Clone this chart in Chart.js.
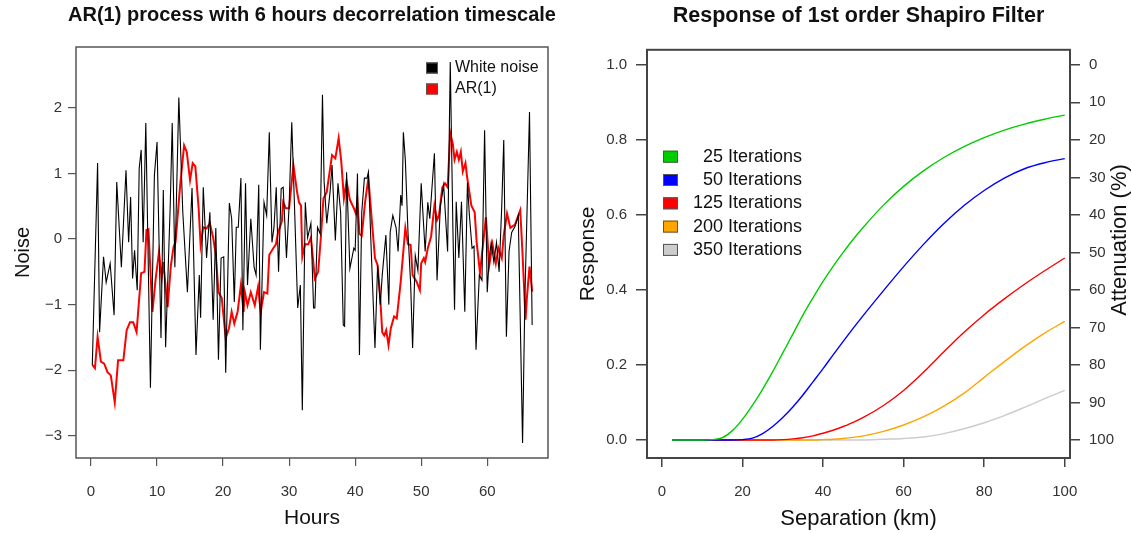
<!DOCTYPE html>
<html>
<head>
<meta charset="utf-8">
<script src="https://cdn.jsdelivr.net/npm/chart.js"></script>
<style>
  body { margin: 0; background: #fff; }
  .panel { position: absolute; top: 0; }
</style>
</head>
<body>
<div class="panel" style="left:0"><canvas id="arChart" width="624" height="533"></canvas></div>
<div class="panel" style="left:565px"><canvas id="shapiroChart" width="566" height="533"></canvas></div>
<script>
// left panel: white noise and AR(1)
const noiseHours = [0.2, 1.0, 1.3, 1.9, 2.3, 2.9, 3.5, 3.9, 4.6, 5.3, 5.7, 6.0, 6.3, 6.6, 7.0, 7.3, 7.6, 7.9, 8.3, 9.0,
  9.6, 10.0, 10.6, 10.95, 11.3, 12.0, 12.3, 12.7, 13.3, 13.9, 14.6, 15.3, 15.9, 16.4, 16.6, 17.0, 17.5, 18.0, 18.5, 18.9,
  19.3, 19.7, 20.1, 20.4, 20.95, 21.3, 21.7, 22.0, 22.3, 22.7, 23.0, 23.4, 23.7, 24.2, 24.7, 25.0, 25.4, 25.65, 26.2, 26.6,
  27.0, 27.4, 27.7, 28.05, 28.4, 28.8, 29.1, 29.6, 30.0, 30.4, 30.8, 31.3, 31.7, 32.0, 32.45, 32.8, 33.3, 33.7, 33.9, 34.3,
  34.7, 35.05, 35.3, 35.7, 36.2, 36.5, 37.0, 37.4, 37.8, 38.2, 38.4, 38.7, 39.2, 39.8, 40.0, 40.35, 40.65, 41.0, 41.4, 41.8,
  42.0, 42.5, 43.0, 43.4, 43.8, 44.1, 44.65, 45.1, 45.3, 45.7, 46.2, 46.5, 46.9, 47.1, 47.3, 47.6, 48.0, 48.4, 48.7, 49.1,
  49.5, 50.0, 50.6, 51.0, 51.3, 52.0, 52.4, 52.9, 53.4, 54.0, 54.4, 54.8, 55.05, 55.3, 55.7, 56.1, 56.6, 57.0, 57.3, 57.7,
  58.0, 58.3, 58.8, 59.2, 59.6, 60.0, 60.3, 60.6, 61.0, 61.4, 61.8, 62.2, 62.5, 62.9, 63.3, 63.7, 64.2, 64.7, 65.35, 65.7,
  66.4, 66.8];
const noiseValues = [-1.92, 1.16, -1.42, -0.27, -0.66, -0.37, -1.16, 0.87, -0.43, 1.05, -0.05, 0.64, -0.6, -0.17, -0.78, 1.08, 1.36, -0.05, 1.77, -2.27,
  0.97, 1.48, -1.51, 0.75, -1.65, 0.52, 1.77, -0.43, 2.16, 0.41, -0.81, 0.78, -1.77, -0.55, -1.2, 0.79, -0.29, 0.41, -1.23, 0.17,
  -1.84, -0.29, -0.27, -2.04, 0.55, 0.31, -0.96, 0.18, 0.18, 0.93, -1.39, 0.85, -0.7, 0.31, -0.43, -0.55, 0.83, -1.69, 0.56, 0.36,
  1.63, -0.05, 0.17, 0.79, -0.5, 0.77, 0.79, -0.29, 0.51, 1.78, 0.55, -1.05, -0.7, -2.61, 0.56, 0.02, 0.24, -1.05, -1.05, 0.18,
  0.08, 2.2, 0.88, 0.24, 0.72, 1.13, -0.02, 0.85, 0.41, -1.31, -1.33, 1.02, -0.45, -0.14, -0.17, 1.0, -1.77, 0.41, 0.93, 0.93,
  1.02, -0.35, -1.66, -0.4, -1.0, -0.55, 0.06, -1.0, 0.1, 0.36, 0.17, -0.19, 0.67, 0.51, 1.63, 1.2, 0.1, -0.68, -1.66, -0.25,
  -0.48, 0.85, -0.19, 0.56, 0.31, 1.31, -0.63, 0.51, 0.82, -0.19, 2.7, 0.16, -1.08, 0.57, -0.29, 0.57, -1.11, 0.86, 0.36, -0.14,
  -0.11, -1.69, -0.55, -0.63, 1.66, -0.81, -0.29, -0.05, -0.35, -0.05, -0.5, 0.51, 1.51, -1.49, -0.19, 0.1, 0.19, 0.36, -3.11, -0.9,
  1.94, -1.31];

const arHours = [0.2, 0.6, 1.0, 1.5, 2.0, 2.5, 3.0, 3.6, 4.1, 4.9, 5.4, 5.9, 6.4, 6.9, 7.6, 8.1, 8.4, 8.7, 9.3, 9.8,
  10.3, 10.7, 10.95, 11.6, 12.1, 12.5, 12.8, 13.5, 14.1, 14.5, 15.0, 15.4, 15.8, 16.3, 16.6, 17.0, 17.5, 18.0, 18.5, 18.9,
  19.3, 19.8, 20.4, 20.9, 21.3, 21.7, 22.2, 22.7, 23.1, 23.3, 23.7, 24.2, 24.8, 25.3, 25.7, 26.2, 26.7, 27.0, 27.6, 28.0,
  28.3, 28.9, 29.1, 29.5, 30.0, 30.65, 31.2, 31.5, 31.8, 32.0, 32.4, 32.9, 33.3, 33.9, 34.4, 34.8, 35.2, 35.7, 36.0, 36.5,
  37.0, 37.5, 37.9, 38.3, 38.7, 39.2, 39.8, 40.1, 40.35, 40.65, 41.0, 41.5, 42.0, 42.5, 43.0, 43.4, 43.8, 44.1, 44.4, 44.7,
  45.05, 45.4, 45.9, 46.3, 46.9, 47.6, 48.0, 48.4, 48.7, 49.3, 49.8, 50.0, 50.4, 50.6, 51.0, 51.5, 52.0, 52.4, 52.7, 53.2,
  53.6, 54.0, 54.4, 54.8, 55.05, 55.4, 55.7, 56.0, 56.3, 56.7, 56.95, 57.6, 58.1, 58.4, 58.9, 59.8, 60.3, 60.8, 61.3, 61.7,
  62.2, 62.5, 63.0, 63.5, 64.2, 65.0, 65.35, 65.8, 66.0, 66.4, 66.8];
const arValues = [-1.92, -1.97, -1.49, -1.87, -1.9, -2.03, -2.08, -2.49, -1.85, -1.85, -1.39, -1.27, -1.27, -1.42, -0.52, -0.5, 0.14, 0.15, -1.11, -0.6,
  -0.2, -0.6, -0.35, -1.04, -0.4, -0.12, -0.05, 0.82, 1.43, 1.33, 0.9, 1.16, 1.11, 0.47, -0.09, 0.18, 0.16, 0.24, 0.02, -0.24,
  -0.81, -0.9, -1.51, -1.36, -1.11, -1.29, -1.11, -0.7, -1.11, -0.81, -1.01, -0.81, -1.01, -0.73, -1.11, -0.81, -0.83, -0.24, -0.14, -0.08,
  0.09, 0.27, 0.56, 0.47, 0.47, 1.13, 0.72, 0.56, 0.51, -0.27, -0.08, -0.08, 0.02, -0.6, -0.5, 0.02, 0.62, 0.72, 0.93, 1.28,
  1.23, 1.54, 1.18, 0.62, 0.88, 0.6, 0.47, 0.39, 0.56, 0.08, 0.05, 0.56, 0.93, 0.31, -0.29, -0.4, -0.9, -1.42, -1.47, -1.39,
  -1.62, -1.36, -1.18, -1.21, -0.65, 0.17, -0.08, -0.09, -0.55, -0.65, -0.78, -0.37, -0.29, -0.35, -0.14, 0.04, 0.51, 0.29, 0.36, 0.79,
  0.85, 0.79, 1.62, 1.44, 1.21, 1.33, 1.21, 1.33, 1.03, 1.16, 0.95, 0.51, 0.41, -0.05, -0.51, 0.33, -0.4, -0.08, -0.37, -0.14,
  -0.29, 0.06, 0.39, 0.17, 0.22, 0.44, -0.24, -1.23, -0.9, -0.42, -0.8];

const hourTicks = [0, 10, 20, 30, 40, 50, 60];
const noiseTicks = [-3, -2, -1, 0, 1, 2];

// right panel: filter response vs separation
const sepKm = [2.5, 5, 7.5, 10, 12.5, 15, 17.5, 20, 22.5, 25, 27.5, 30, 32.5, 35, 37.5, 40, 42.5, 45, 47.5, 50,
  55, 60, 65, 70, 75, 80, 85, 90, 95, 100];
const resp25 = [0, 0, 0, 0, 0.001, 0.006, 0.025, 0.055, 0.093, 0.135, 0.182, 0.232, 0.282, 0.333, 0.379, 0.423, 0.463, 0.5, 0.535, 0.567,
  0.626, 0.676, 0.718, 0.753, 0.782, 0.806, 0.826, 0.842, 0.855, 0.866];
const resp50 = [0, 0, 0, 0, 0, 0, 0, 0.001, 0.005, 0.017, 0.036, 0.06, 0.088, 0.12, 0.155, 0.19, 0.227, 0.263, 0.298, 0.332,
  0.398, 0.462, 0.522, 0.577, 0.625, 0.665, 0.698, 0.723, 0.739, 0.75];
const resp125 = [0, 0, 0, 0, 0, 0, 0, 0, 0, 0, 0, 0.001, 0.003, 0.006, 0.011, 0.018, 0.026, 0.036, 0.047, 0.06,
  0.092, 0.132, 0.181, 0.235, 0.287, 0.334, 0.376, 0.415, 0.451, 0.485];
const resp200 = [0, 0, 0, 0, 0, 0, 0, 0, 0, 0, 0, 0, 0, 0, 0, 0.001, 0.002, 0.004, 0.007, 0.011,
  0.023, 0.04, 0.062, 0.09, 0.125, 0.167, 0.209, 0.249, 0.285, 0.316];
const resp350 = [0, 0, 0, 0, 0, 0, 0, 0, 0, 0, 0, 0, 0, 0, 0, 0, 0, 0, 0, 0,
  0.002, 0.004, 0.008, 0.017, 0.03, 0.046, 0.065, 0.087, 0.11, 0.132];
const iterLabels = ['25 Iterations', '50 Iterations', '125 Iterations', '200 Iterations', '350 Iterations'];
const iterColors = ['#00cd00', '#0000ff', '#ff0000', '#ffa500', '#cccccc'];
const sepTicks = [0, 20, 40, 60, 80, 100];
const respTicks = [0, 0.2, 0.4, 0.6, 0.8, 1.0];
const attenTicks = [0, 10, 20, 30, 40, 50, 60, 70, 80, 90, 100];

Chart.defaults.font.family = "'Liberation Sans', Arial, sans-serif";
Chart.defaults.color = '#333';
Chart.defaults.animation = false;

const toXY = (xs, ys) => xs.map((x, i) => ({ x: x, y: ys[i] }));
const fixTicks = arr => scale => { scale.ticks = arr.map(v => ({ value: v })); };
const minus = v => String(v).replace('-', '\u2212');

// box round the plot area
const plotBox = {
  id: 'plotBox',
  beforeDatasetsDraw(chart, args, o) {
    const { ctx, chartArea: a } = chart;
    ctx.save();
    ctx.strokeStyle = o.color;
    ctx.lineWidth = o.width;
    ctx.strokeRect(a.left, a.top, a.right - a.left, a.bottom - a.top);
    ctx.restore();
  }
};

// R style legend with filled boxes
const boxLegend = {
  id: 'boxLegend',
  afterDatasetsDraw(chart, args, o) {
    const ctx = chart.ctx;
    ctx.save();
    ctx.font = o.font;
    ctx.textBaseline = 'middle';
    ctx.textAlign = o.align;
    chart.data.datasets.forEach((ds, i) => {
      const cy = o.y + i * o.rowH;
      ctx.fillStyle = ds.borderColor;
      ctx.fillRect(o.x, cy - o.boxH / 2, o.boxW, o.boxH);
      ctx.strokeStyle = '#555';
      ctx.lineWidth = 1;
      ctx.strokeRect(o.x + 0.5, cy - o.boxH / 2 + 0.5, o.boxW - 1, o.boxH - 1);
      ctx.fillStyle = '#111';
      ctx.fillText(ds.label, o.textX, cy);
    });
    ctx.restore();
  }
};

// right axis title reads bottom to top, like the left one
const sideTitle = {
  id: 'sideTitle',
  afterDraw(chart, args, o) {
    if (!o.text) return;
    const ctx = chart.ctx;
    ctx.save();
    ctx.translate(o.x, o.y);
    ctx.rotate(-Math.PI / 2);
    ctx.font = o.font;
    ctx.fillStyle = '#111';
    ctx.textAlign = 'center';
    ctx.textBaseline = 'middle';
    ctx.fillText(o.text, 0, 0);
    ctx.restore();
  }
};

// the left canvas is widened (empty right axis) so its title centres over the plot box
new Chart(document.getElementById('arChart'), {
  type: 'line',
  data: {
    datasets: [
      { label: 'White noise', data: toXY(noiseHours, noiseValues), borderColor: '#000000', borderWidth: 1.1, pointRadius: 0 },
      { label: 'AR(1)', data: toXY(arHours, arValues), borderColor: '#ff0000', borderWidth: 2, pointRadius: 0 }
    ]
  },
  plugins: [plotBox, boxLegend],
  options: {
    responsive: false,
    layout: { padding: 0 },
    plugins: {
      legend: { display: false },
      tooltip: { enabled: false },
      title: {
        display: true, fullSize: true,
        text: 'AR(1) process with 6 hours decorrelation timescale',
        font: { size: 20, weight: 'bold' }, color: '#111',
        padding: { top: 3, bottom: 20 }
      },
      plotBox: { color: '#555', width: 1.5 },
      boxLegend: { x: 426, y: 68, rowH: 21, boxW: 12, boxH: 11, textX: 455, align: 'left', font: "16px 'Liberation Sans', Arial, sans-serif" }
    },
    scales: {
      x: {
        type: 'linear', min: -2.27, max: 69.2,
        afterBuildTicks: fixTicks(hourTicks),
        afterFit: s => { s.height = 75; },
        border: { display: false },
        grid: { drawOnChartArea: false, tickLength: 8, color: '#555', lineWidth: 1.2 },
        ticks: { padding: 17, font: { size: 15 }, maxRotation: 0, autoSkip: false },
        title: { display: true, text: 'Hours', font: { size: 21 }, color: '#111', padding: { top: 0, bottom: 2 } }
      },
      y: {
        type: 'linear', min: -3.34, max: 2.93,
        afterBuildTicks: fixTicks(noiseTicks),
        afterFit: s => { s.width = 76; },
        border: { display: false },
        grid: { drawOnChartArea: false, tickLength: 8, color: '#555', lineWidth: 1.2 },
        ticks: { padding: 6, font: { size: 15 }, autoSkip: false, callback: v => minus(v) },
        title: { display: true, text: 'Noise', font: { size: 20 }, color: '#111', padding: { top: 11, bottom: 0 } }
      },
      spacer: {
        type: 'linear', position: 'right', min: 0, max: 1,
        afterFit: s => { s.width = 76; },
        border: { display: false },
        grid: { display: false },
        ticks: { display: false }
      }
    }
  }
});

const respData = [resp25, resp50, resp125, resp200, resp350];

new Chart(document.getElementById('shapiroChart'), {
  type: 'line',
  data: {
    datasets: respData.map((r, i) => ({
      label: iterLabels[i], data: toXY(sepKm, r), borderColor: iterColors[i],
      borderWidth: 1.4, pointRadius: 0, cubicInterpolationMode: 'monotone', yAxisID: 'y'
    }))
  },
  plugins: [plotBox, boxLegend, sideTitle],
  options: {
    responsive: false,
    layout: { padding: { left: 0, right: 0, top: 0, bottom: 0 } },
    plugins: {
      legend: { display: false },
      tooltip: { enabled: false },
      title: {
        display: true, fullSize: false,
        text: 'Response of 1st order Shapiro Filter',
        font: { size: 21.5, weight: 'bold' }, color: '#111',
        padding: { top: 3, bottom: 21 }
      },
      plotBox: { color: '#444', width: 2 },
      boxLegend: { x: 98, y: 156.7, rowH: 23.3, boxW: 15, boxH: 12, textX: 237, align: 'right', font: "18px 'Liberation Sans', Arial, sans-serif" },
      sideTitle: { text: 'Attenuation (%)', x: 555, y: 240, font: "22px 'Liberation Sans', Arial, sans-serif" }
    },
    scales: {
      x: {
        type: 'linear', min: -3.7, max: 101.3,
        afterBuildTicks: fixTicks(sepTicks),
        afterFit: s => { s.height = 75; },
        border: { display: false },
        grid: { drawOnChartArea: false, tickLength: 9, color: '#444', lineWidth: 1.5 },
        ticks: { padding: 16, font: { size: 15 }, maxRotation: 0, autoSkip: false },
        title: { display: true, text: 'Separation (km)', font: { size: 22 }, color: '#111', padding: { top: 0, bottom: 1 } }
      },
      y: {
        type: 'linear', position: 'left', min: -0.048, max: 1.04,
        afterBuildTicks: fixTicks(respTicks),
        afterFit: s => { s.width = 82; },
        border: { display: false },
        grid: { drawOnChartArea: false, tickLength: 11, color: '#444', lineWidth: 1.5 },
        ticks: { padding: 9, font: { size: 15 }, autoSkip: false, callback: v => v.toFixed(1) },
        title: { display: true, text: 'Response', font: { size: 21 }, color: '#111', padding: { top: 11, bottom: 0 } }
      },
      y2: {
        type: 'linear', position: 'right', reverse: true, min: -4, max: 104.8,
        afterBuildTicks: fixTicks(attenTicks),
        afterFit: s => { s.width = 61; },
        border: { display: false },
        grid: { drawOnChartArea: false, tickLength: 10, color: '#444', lineWidth: 1.5 },
        ticks: { padding: 9, font: { size: 15 }, autoSkip: false }
      }
    }
  }
});
</script>
</body>
</html>
